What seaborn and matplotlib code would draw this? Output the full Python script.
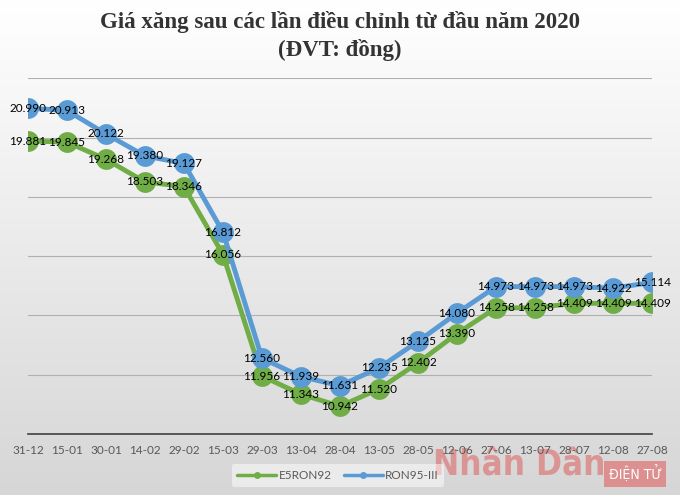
import numpy as np
import pandas as pd
import seaborn as sns
import matplotlib.pyplot as plt

ngay = ["31-12", "15-01", "30-01", "14-02", "29-02", "15-03", "29-03", "13-04", "28-04",
        "13-05", "28-05", "12-06", "27-06", "13-07", "28-07", "12-08", "27-08"]
e5ron92 = [19881, 19845, 19268, 18503, 18346, 16056, 11956, 11343, 10942,
           11520, 12402, 13390, 14258, 14258, 14409, 14409, 14409]
ron95 = [20990, 20913, 20122, 19380, 19127, 16812, 12560, 11939, 11631,
         12235, 13125, 14080, 14973, 14973, 14973, 14922, 15114]

data = pd.DataFrame({
    "x": list(range(len(ngay))) * 2,
    "gia": e5ron92 + ron95,
    "loai": ["E5RON92"] * len(ngay) + ["RON95-III"] * len(ngay),
})

sns.set_style("white")
plt.rcParams["font.family"] = ["Lato", "DejaVu Sans"]

fig = plt.figure(figsize=(6.8, 4.95), dpi=100)

# nen gradient
bg = fig.add_axes([0, 0, 1, 1], zorder=-10)
grad = np.linspace(1.0, 0.84, 256).reshape(-1, 1)
grad = np.hstack([grad, grad])
bg.imshow(np.dstack([grad, grad, grad]), aspect="auto", extent=[0, 1, 0, 1])
bg.set_axis_off()

# watermark (nam duoi truc)
fig.text(0.763, 0.06, "Nhân Dân", ha="center", va="center", fontsize=25, fontweight="bold",
         fontstretch="condensed", color="#e03030", alpha=0.4, family="DejaVu Sans", zorder=-5)
fig.text(0.934, 0.042, "ĐIỆN TỬ", ha="center", va="center", fontsize=10,
         color="white", family="DejaVu Sans", fontstretch="condensed", zorder=-5,
         bbox=dict(facecolor="#e06060", edgecolor="none", alpha=0.6, pad=3))

ax = fig.add_axes([0.041, 0.123, 0.918, 0.719])
ax.patch.set_alpha(0)

mau = {"E5RON92": "#70ad47", "RON95-III": "#5b9bd5"}
sns.lineplot(data=data, x="x", y="gia", hue="loai", palette=mau, ax=ax,
             linewidth=3.5, marker="o", markersize=15, markeredgewidth=0,
             legend=True)

for x, v in enumerate(e5ron92):
    ax.text(x, v, f"{v:,}".replace(",", "."), ha="center", va="center", fontsize=8.5, color="black")
for x, v in enumerate(ron95):
    ax.text(x, v, f"{v:,}".replace(",", "."), ha="center", va="center", fontsize=8.5, color="black")

ax.set_xlim(0, len(ngay) - 1)
ax.set_ylim(10000, 22000)
ax.set_yticks(range(10000, 22001, 2000))
ax.set_yticklabels([])
ax.yaxis.grid(True, color="#b0b0b0", linewidth=0.8)
ax.set_axisbelow(True)
ax.set_xticks(range(len(ngay)))
ax.set_xticklabels(ngay, fontsize=8.5, color="#595959")
ax.tick_params(axis="x", length=4, width=1, color="#404040", direction="out", pad=4)
ax.tick_params(axis="y", length=0)
ax.set_xlabel("")
ax.set_ylabel("")
for s in ["left", "right", "top"]:
    ax.spines[s].set_visible(False)
ax.spines["bottom"].set_color("#404040")
ax.spines["bottom"].set_linewidth(1.2)

h, l = ax.get_legend_handles_labels()
for hh in h:
    hh.set_markersize(5)
    hh.set_linewidth(2.5)
ax.legend(h, l, loc="center", bbox_to_anchor=(0.497, 0.04), bbox_transform=fig.transFigure,
          ncol=2, frameon=True, facecolor="white", edgecolor="none", framealpha=0.5,
          fontsize=8.5, labelcolor="#595959", handlelength=3.3, handletextpad=0.2,
          columnspacing=1.0, borderpad=0.5)

fig.text(0.5, 0.955, "Giá xăng sau các lần điều chỉnh từ đầu năm 2020", ha="center", va="center",
         fontsize=16.5, fontweight="bold", family="Liberation Serif", color="#333333")
fig.text(0.5, 0.898, "(ĐVT: đồng)", ha="center", va="center",
         fontsize=16.5, fontweight="bold", family="Liberation Serif", color="#333333")

fig.savefig("out.png", dpi=100)
